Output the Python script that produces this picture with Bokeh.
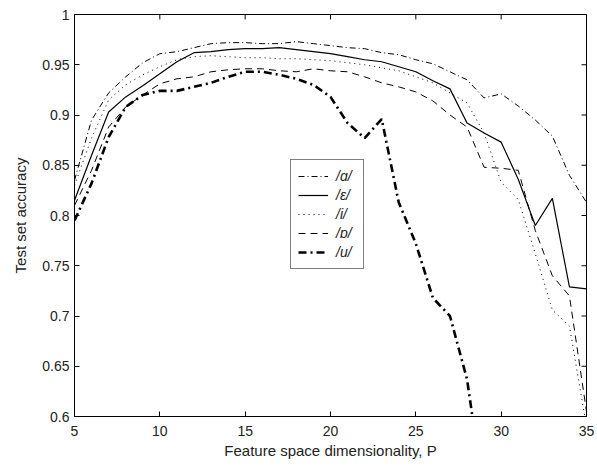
import math
from bokeh.plotting import figure
from bokeh.models import (FixedTicker, Legend, LegendItem, Range1d,
                          CustomJSTickFormatter)
from bokeh.embed import file_html
from bokeh.resources import INLINE

P = list(range(5, 36))

acc_a = [0.835, 0.895, 0.922, 0.938, 0.952, 0.961, 0.963, 0.967, 0.971, 0.972,
         0.972, 0.971, 0.971, 0.973, 0.971, 0.969, 0.967, 0.966, 0.962, 0.960,
         0.955, 0.951, 0.943, 0.935, 0.917, 0.921, 0.909, 0.895, 0.879, 0.840, 0.813]
acc_e = [0.815, 0.860, 0.903, 0.918, 0.929, 0.941, 0.953, 0.962, 0.963, 0.965,
         0.966, 0.966, 0.967, 0.965, 0.963, 0.961, 0.958, 0.955, 0.953, 0.948,
         0.943, 0.934, 0.926, 0.892, 0.882, 0.873, 0.836, 0.790, 0.817, 0.729, 0.727]
acc_i = [0.830, 0.877, 0.915, 0.930, 0.940, 0.948, 0.955, 0.958, 0.959, 0.958,
         0.957, 0.957, 0.956, 0.956, 0.955, 0.954, 0.952, 0.950, 0.947, 0.944,
         0.938, 0.932, 0.922, 0.912, 0.882, 0.833, 0.816, 0.762, 0.706, 0.690, 0.590]
acc_o = [0.810, 0.845, 0.888, 0.908, 0.920, 0.931, 0.936, 0.938, 0.943, 0.945,
         0.946, 0.946, 0.944, 0.943, 0.946, 0.944, 0.943, 0.938, 0.932, 0.928,
         0.923, 0.914, 0.900, 0.888, 0.848, 0.847, 0.845, 0.785, 0.740, 0.720, 0.605]
P_u = list(range(5, 30))
acc_u = [0.795, 0.832, 0.878, 0.908, 0.920, 0.924, 0.924, 0.928, 0.932, 0.938,
         0.943, 0.943, 0.940, 0.936, 0.930, 0.918, 0.892, 0.877, 0.896, 0.813,
         0.772, 0.718, 0.700, 0.637, 0.520]

labels = ["/\u0251/", "/\u03b5/", "/i/", "/\u0252/", "/u/"]
x_ticks = [5, 10, 15, 20, 25, 30, 35]
y_ticks = [0.6, 0.65, 0.7, 0.75, 0.8, 0.85, 0.9, 0.95, 1.0]
x_min, x_max = 5, 35
y_min, y_max = 0.6, 1.0

FONT = "Liberation Sans"

p = figure(width=597, height=468, output_backend="svg", toolbar_location=None,
           x_range=Range1d(x_min, x_max), y_range=Range1d(y_min, y_max),
           min_border_left=74, min_border_right=11, min_border_top=14,
           min_border_bottom=52)
p.grid.visible = False
p.outline_line_color = "black"
p.outline_line_width = 1
p.background_fill_color = "white"
p.border_fill_color = "white"

fmt = CustomJSTickFormatter(code="return String(+tick.toFixed(2));")

for ax in (p.xaxis[0], p.yaxis[0]):
    ax.major_tick_in = 5
    ax.major_tick_out = 0
    ax.minor_tick_in = 0
    ax.minor_tick_out = 0
    ax.axis_line_color = "black"
    ax.major_tick_line_color = "black"
    ax.major_label_text_font = FONT
    ax.major_label_text_font_size = "14px"
    ax.major_label_text_color = "#222222"
    ax.axis_label_text_font = FONT
    ax.axis_label_text_font_size = "15px"
    ax.axis_label_text_font_style = "normal"
    ax.axis_label_text_color = "#222222"

p.xaxis[0].ticker = FixedTicker(ticks=x_ticks)
p.yaxis[0].ticker = FixedTicker(ticks=y_ticks)
p.yaxis[0].formatter = fmt
p.xaxis[0].axis_label = "Feature space dimensionality, P"
p.yaxis[0].axis_label = "Test set accuracy"
p.xaxis[0].major_label_standoff = 9
p.xaxis[0].axis_label_standoff = 3
p.yaxis[0].major_label_standoff = 5
p.yaxis[0].axis_label_standoff = 10

# inward tick marks on the top and right edges (half of each dash is clipped)
p.scatter(x_ticks, [y_max] * len(x_ticks), marker="dash", size=10,
          angle=math.pi / 2, line_color="black", line_width=1)
p.scatter([x_max] * len(y_ticks), y_ticks, marker="dash", size=10,
          line_color="black", line_width=1)

r_a = p.line(P, acc_a, line_color="black", line_width=1, line_dash="6 3 1 3")
r_e = p.line(P, acc_e, line_color="black", line_width=1.2)
r_i = p.line(P, acc_i, line_color="black", line_width=1, line_dash="1 4")
r_o = p.line(P, acc_o, line_color="black", line_width=1, line_dash="7 5")
r_u = p.line(P_u, acc_u, line_color="black", line_width=2.6, line_dash="8 4 2 4")

items = [LegendItem(label=lab, renderers=[r]) for lab, r in
         zip(labels, [r_a, r_e, r_i, r_o, r_u])]
legend = Legend(items=items, location=(216, 147), orientation="vertical")
legend.border_line_color = "black"
legend.border_line_width = 1
legend.background_fill_color = "white"
legend.background_fill_alpha = 1
legend.label_text_font = FONT
legend.label_text_font_size = "14px"
legend.label_text_font_style = "italic"
legend.label_text_color = "#222222"
legend.glyph_width = 30
legend.glyph_height = 18
legend.label_height = 18
legend.label_standoff = 8
legend.spacing = 1
legend.padding = 7
legend.margin = 0
p.add_layout(legend, "center")

open("out.html", "w").write(file_html(p, INLINE))
